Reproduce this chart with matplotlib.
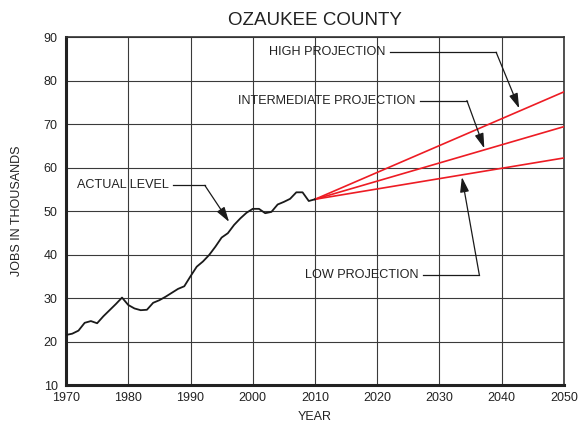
import numpy as np
import matplotlib
matplotlib.use("Agg")
import matplotlib.pyplot as plt

plt.rcParams['font.family'] = ['Liberation Sans', 'DejaVu Sans']

# ---------------------------------------------------------------------------
# Data
# ---------------------------------------------------------------------------

years_actual = list(range(1970, 2011))
jobs_actual = [21.5, 21.8, 22.5, 24.3, 24.7, 24.2, 25.8, 27.2, 28.6, 30.1,
               28.4, 27.6, 27.2, 27.3, 28.9, 29.5, 30.3, 31.2, 32.1, 32.7,
               35.0, 37.2, 38.4, 39.9, 41.8, 43.9, 44.9, 46.8, 48.3, 49.6,
               50.5, 50.5, 49.5, 49.8, 51.5, 52.1, 52.8, 54.3, 54.3, 52.3,
               52.7]

proj_years = [2010, 2050]
proj_high = [52.7, 77.4]
proj_intermediate = [52.7, 69.4]
proj_low = [52.7, 62.2]

x_ticks = list(range(1970, 2051, 10))
y_ticks = list(range(10, 91, 10))

# annotation label, leader start, bend point, arrow tip (year, jobs)
labels = [
    ("ACTUAL LEVEL",            (1987.2, 55.9), (1992.3, 55.9), (1996.2, 47.5)),
    ("HIGH PROJECTION",         (2022.0, 86.5), (2039.1, 86.5), (2042.8, 73.6)),
    ("INTERMEDIATE PROJECTION", (2026.8, 75.4), (2034.4, 75.4), (2037.2, 64.4)),
    ("LOW PROJECTION",          (2027.3, 35.3), (2036.4, 35.3), (2033.6, 57.8)),
]

# ---------------------------------------------------------------------------
# Plot
# ---------------------------------------------------------------------------

fig = plt.figure(figsize=(5.8, 4.26), dpi=100)
ax = fig.add_axes([0.1138, 0.0962, 0.8586, 0.8169])

ax.set_xlim(1970, 2050)
ax.set_ylim(10, 90)
ax.set_xticks(x_ticks)
ax.set_yticks(y_ticks)
ax.tick_params(length=0, labelsize=9, colors='#222222')
ax.tick_params(axis='x', pad=5)
ax.tick_params(axis='y', pad=6)
ax.grid(True, color='#3a3a3a', lw=0.8)
ax.set_axisbelow(True)

for side in ['left', 'bottom']:
    ax.spines[side].set_linewidth(2.2)
    ax.spines[side].set_color('#222222')
for side in ['top', 'right']:
    ax.spines[side].set_linewidth(1.2)
    ax.spines[side].set_color('#333333')

red = '#ed1c24'
for vals in [proj_high, proj_intermediate, proj_low]:
    ax.plot(proj_years, vals, color=red, lw=1.2, zorder=3)
ax.plot(years_actual, jobs_actual, color='#1a1a1a', lw=1.3, zorder=4)

for text, start, bend, tip in labels:
    ax.text(start[0] - 0.7, start[1], text, ha='right', va='center',
            fontsize=9.1, color='#222222', zorder=5)
    ax.plot([start[0], bend[0]], [start[1], bend[1]], color='#1a1a1a',
            lw=0.9, zorder=5)
    ax.annotate('', xy=tip, xytext=bend, zorder=5,
                arrowprops=dict(arrowstyle='-|>,head_length=0.6,head_width=0.18',
                                mutation_scale=15, lw=0.9, color='#1a1a1a',
                                shrinkA=0, shrinkB=0))

ax.set_title("OZAUKEE COUNTY", fontsize=13.5, color='#222222', pad=9)
ax.set_xlabel("YEAR", fontsize=9, color='#222222', labelpad=5)
ax.set_ylabel("JOBS IN THOUSANDS", fontsize=9, color='#222222', labelpad=15)

fig.savefig("out.png", dpi=100)
